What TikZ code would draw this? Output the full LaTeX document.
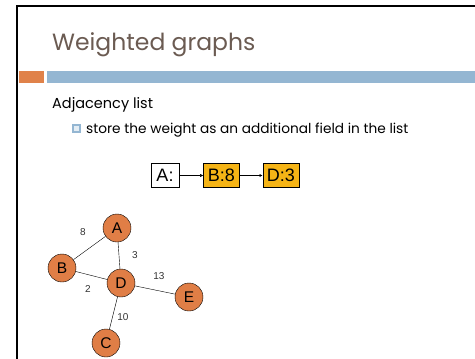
\documentclass[tikz,border=0pt]{standalone}
\usepackage{fontspec}
\setmainfont{Poppins}
\newfontfamily\arial{Liberation Sans}
\usetikzlibrary{positioning, arrows.meta}
\definecolor{titregris}{RGB}{107, 91, 82}
\definecolor{barreorange}{RGB}{224, 130, 74}
\definecolor{barrebleu}{RGB}{148, 182, 210}
\definecolor{noeudorange}{RGB}{224, 126, 70}
\definecolor{listeor}{RGB}{245, 180, 22}

\begin{document}
\begin{tikzpicture}[x=1pt, y=-1pt,
    sommet/.style={circle, draw, fill=noeudorange, minimum size=28pt, inner sep=0pt, font=\arial\fontsize{15.5}{17}\selectfont},
    case/.style={draw, minimum height=24pt, inner sep=1pt, font=\arial\fontsize{18}{20}\selectfont},
    poids/.style={inner sep=1pt, text=black!80, font=\arial\fontsize{10}{12}\selectfont},
    fleche/.style={-{Latex[length=3pt, width=3pt]}}]
    \useasboundingbox (0,0) rectangle (475,359);
    % cadre
    \draw[line width=2.5pt] (475,6) -- (17,6) -- (17,359);
    \fill[barreorange] (19,71) rectangle (44,83);
    \fill[barrebleu] (47,71) rectangle (475,83);
    % texte
    \node[anchor=base west, inner sep=0pt, text=titregris, font=\fontsize{23.5}{28}\selectfont] (titre) at (52,50) {Weighted graphs};
    \node[anchor=base west, inner sep=0pt, font=\fontsize{14.5}{17}\selectfont] (adj) at (52,108) {Adjacency list};
    \node[draw=barrebleu, fill=barrebleu!25, line width=2pt, minimum size=7.5pt, inner sep=0pt] (puce) at (76.5,128.5) {};
    \node[anchor=base west, inner sep=0pt, font=\fontsize{13.7}{16}\selectfont] (texte) at (86,133) {store the weight as an additional field in the list};
    % liste
    \node[case, minimum width=28pt] (la) at (165,175.5) {A:};
    \node[case, fill=listeor, minimum width=36pt, right=24pt of la] (lb) {B:8};
    \node[case, fill=listeor, minimum width=36pt, right=23pt of lb] (ld) {D:3};
    \draw[fleche] (la) -- (lb);
    \draw[fleche] (lb) -- (ld);
    % graphe
    \node[sommet] (a) at (117,228) {A};
    \node[sommet] (b) at (62,268) {B};
    \node[sommet] (d) at (121,283) {D};
    \node[sommet] (e) at (189,297) {E};
    \node[sommet] (c) at (106,343) {C};
    \draw (a) -- (b);
    \draw (a) -- (d);
    \draw (b) -- (d);
    \draw (d) -- (e);
    \draw (d) -- (c);
    \node[poids] (p8) at (83,232) {8};
    \node[poids] (p3) at (135,255) {3};
    \node[poids] (p2) at (88,289) {2};
    \node[poids] (p13) at (159,276) {13};
    \node[poids] (p10) at (123,317) {10};
\end{tikzpicture}
\end{document}
